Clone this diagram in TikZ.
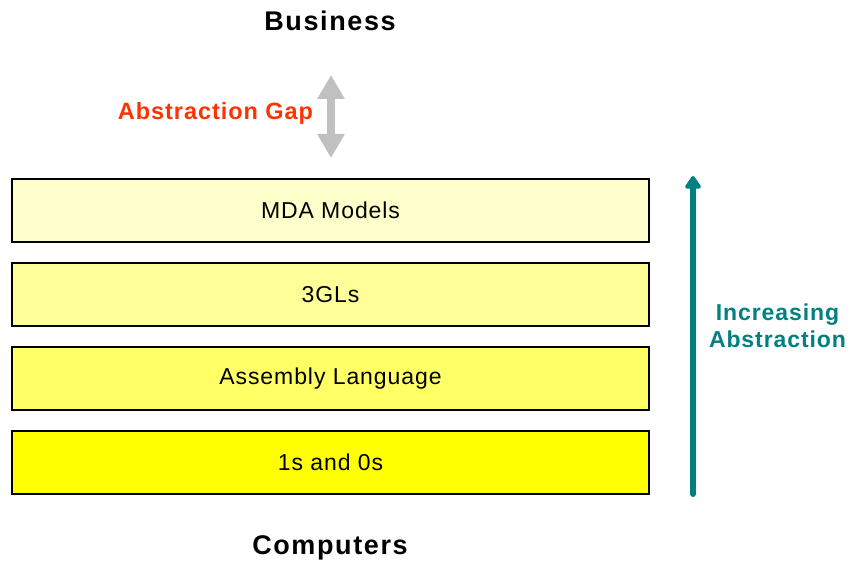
\documentclass[tikz,border=0pt]{standalone}
\usepackage{fontspec}
\setmainfont{Liberation Sans}
\usetikzlibrary{arrows.meta}
\definecolor{layerA}{HTML}{FFFFCC}
\definecolor{layerB}{HTML}{FFFF99}
\definecolor{layerC}{HTML}{FFFF66}
\definecolor{layerD}{HTML}{FFFF00}
\definecolor{gaporange}{HTML}{FF3300}
\definecolor{absteal}{HTML}{008080}
\definecolor{gapgrey}{HTML}{C0C0C0}
\begin{document}
\begin{tikzpicture}[x=1pt,y=-1pt]
      \tikzstyle{layer}=[draw=black, line width=1.5pt, minimum width=637pt, minimum height=63pt, inner sep=0pt, font=\fontsize{23}{26}\selectfont\addfontfeature{LetterSpace=4}]
      \tikzstyle{heading}=[inner sep=0pt, font=\fontsize{27}{30}\selectfont\bfseries\addfontfeature{LetterSpace=6}]
      \useasboundingbox (0,0) rectangle (858,561);
      \node [heading] (business) at (330,21) {Business};
      \node [heading] (computers) at (330,548) {Computers};
      \node [layer, fill=layerA] (mda) at (330.5,210.5) {MDA Models};
      \node [layer, fill=layerB] (gl) at (330.5,294.5) {3GLs};
      \node [layer, fill=layerC] (asm) at (330.5,378.5) {Assembly Language};
      \node [layer, fill=layerD] (bits) at (330.5,462.5) {1s and 0s};
      \node [inner sep=0pt, text=gaporange, font=\fontsize{23.5}{26}\selectfont\bfseries\addfontfeature{LetterSpace=4}] (gap) at (215.5,113) {Abstraction Gap};
      \node [inner sep=0pt, text=absteal, align=center, font=\fontsize{23}{27}\selectfont\bfseries\addfontfeature{LetterSpace=4}] (incr) at (777.5,326) {Increasing\\Abstraction};
      \coordinate (gaptop) at (331,75);
      \coordinate (gapbot) at (331,158);
      \coordinate (incrbot) at (693,494);
      \coordinate (incrtop) at (693,176);
      \draw [gapgrey, line width=8pt, {Triangle[width=26pt,length=24pt]}-{Triangle[width=26pt,length=24pt]}] (gaptop) -- (gapbot);
      \draw [absteal, line width=6pt, line cap=round, -{Triangle[width=18pt,length=14pt,round]}] (incrbot) -- (incrtop);
    \end{tikzpicture}
\end{document}
